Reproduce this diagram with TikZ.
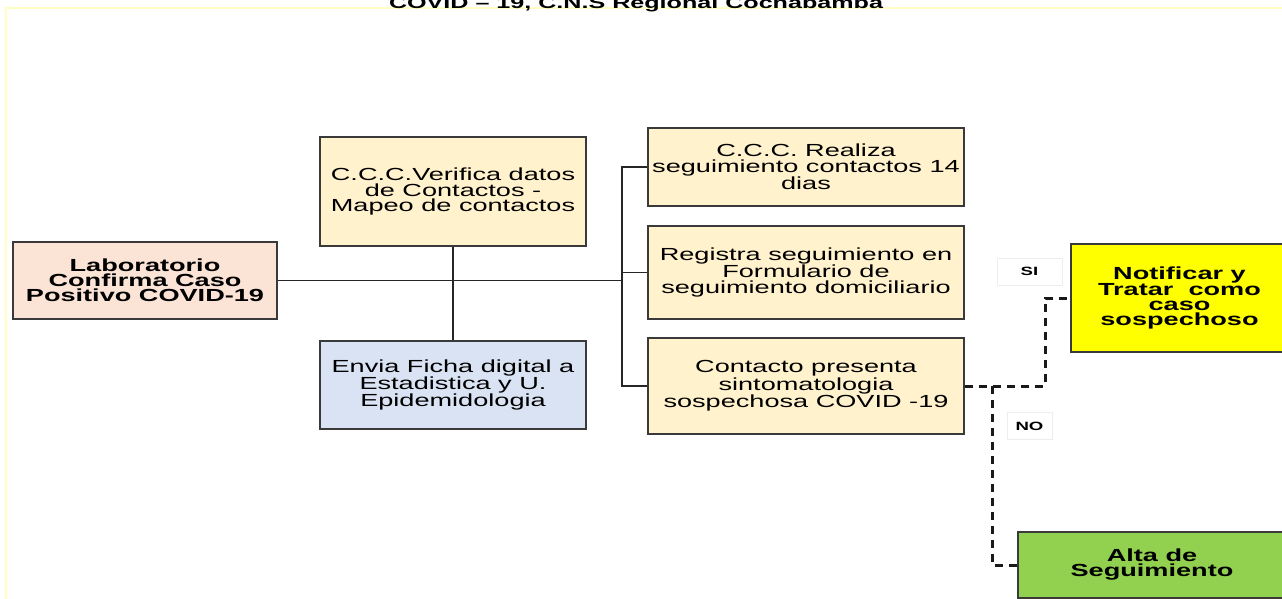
\documentclass[tikz,border=0pt]{standalone}
\usepackage{fontspec}
\setmainfont{Liberation Sans}[FakeStretch=1.55]
\usepackage{tikz}
\usetikzlibrary{positioning}
\definecolor{labfill}{HTML}{FBE3D6}
\definecolor{cccfill}{HTML}{FFF2CC}
\definecolor{envfill}{HTML}{DAE3F3}
\definecolor{notfill}{HTML}{FFFF00}
\definecolor{altfill}{HTML}{92D050}
\definecolor{framecol}{HTML}{FFFFC4}
\definecolor{boxline}{HTML}{3A3A3A}

\begin{document}
\begin{tikzpicture}[x=1pt,y=-1pt,on grid,every node/.style={align=center,inner sep=1pt},
	proc/.style={draw=boxline,line width=1.8pt,fill=cccfill,font=\fontsize{17.5}{15.5}\selectfont},
	key/.style={proc,font=\fontsize{17.5}{15}\selectfont\bfseries},
	tag/.style={draw=black!7,line width=0.8pt,fill=white,minimum height=27pt,font=\fontsize{12}{12}\selectfont\bfseries},
	link/.style={line width=1.8pt,black!85},
	branch/.style={line width=3pt,dash pattern=on 8pt off 6pt,black!90}]
	\useasboundingbox (0,0) rectangle (1282,599);
	\draw[framecol,line width=2pt] (6,8) rectangle (1300,620);
	\node[font=\fontsize{16.2}{16}\selectfont\bfseries,anchor=base] (title) at (636,8.5) {COVID – 19, C.N.S Regional Cochabamba};
	\node[key,fill=labfill,minimum width=264pt,minimum height=77pt] (lab) at (145,280.5) {Laboratorio\\Confirma Caso\\Positivo COVID-19};
	\node[proc,minimum width=266pt,minimum height=109pt] (verif) [above right=89pt and 308pt of lab] {C.C.C.Verifica datos\\de Contactos -\\Mapeo de contactos};
	\node[proc,fill=envfill,minimum width=266pt,minimum height=88pt] (envia) [below=193.5pt of verif] {Envia Ficha digital a\\Estadistica y U.\\Epidemidologia};
	\node[proc,minimum width=316pt,minimum height=78pt] (realiza) [above right=24.5pt and 353pt of verif] {C.C.C. Realiza\\seguimiento contactos 14\\dias};
	\node[proc,minimum width=316pt,minimum height=93pt] (registra) [below=105.5pt of realiza] {Registra seguimiento en\\Formulario de\\seguimiento domiciliario};
	\node[proc,minimum width=316pt,minimum height=96pt] (contacto) [below=113.5pt of registra] {Contacto presenta\\sintomatologia\\sospechosa COVID -19};
	\node[key,fill=notfill,minimum width=217pt,minimum height=108pt] (notif) [above right=88pt and 373.5pt of contacto] {Notificar y\\Tratar \ como\\caso\\sospechoso};
	\node[key,fill=altfill,minimum width=268pt,minimum height=66pt] (alta) [below right=179pt and 346pt of contacto] {Alta de\\Seguimiento};
	\node[tag,minimum width=65pt] (si) at (1029.5,271.5) {SI};
	\node[tag,minimum width=45pt] (no) at (1029.5,426) {NO};
	\coordinate (bus) at (622,167);
	\coordinate (split) at (992,386);
	\coordinate (turn) at (1045,386);
	\draw[link] (lab.east) -- (lab.east -| bus);
	\draw[link] (verif.south) -- (envia.north);
	\draw[link] (realiza.west) -- (bus) |- (contacto.west);
	\draw[link] (registra.west) -- (registra.west -| bus);
	\draw[branch] (contacto.east) -- (turn) |- (notif.west);
	\draw[branch] (split) |- (alta.west);
\end{tikzpicture}
\end{document}
